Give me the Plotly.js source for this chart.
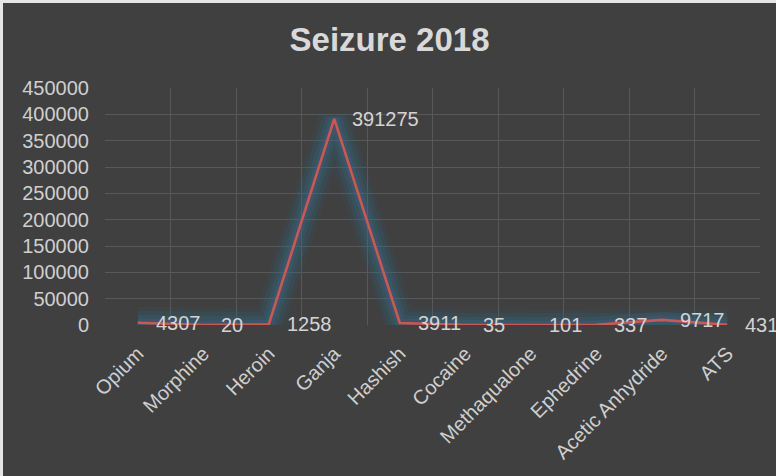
<!DOCTYPE html>
<html>
<head>
<meta charset="utf-8">
<script src="https://cdn.plot.ly/plotly-3.0.1.min.js"></script>
<style>
  html, body { margin: 0; padding: 0; background: #e6e6e6; width: 776px; height: 476px; overflow: hidden; }
  #chart { position: absolute; left: 3px; top: 3px; width: 773px; height: 473px; }
</style>
</head>
<body>
<div id="chart"></div>
<script>
const categories = ["Opium", "Morphine", "Heroin", "Ganja", "Hashish", "Cocaine",
                    "Methaqualone", "Ephedrine", "Acetic Anhydride", "ATS"];
const seizures = [4307, 20, 1258, 391275, 3911, 35, 101, 337, 9717, 431];
const yTicks = [0, 50000, 100000, 150000, 200000, 250000, 300000, 350000, 400000, 450000];

const glowColor = "#2b7090";
const glowLayers = [
  { width: 32, opacity: 0.10 },
  { width: 24, opacity: 0.14 },
  { width: 16, opacity: 0.2 },
  { width: 9, opacity: 0.28 }
];

const traces = glowLayers.map(g => ({
  type: "scatter", mode: "lines", x: categories, y: seizures,
  line: { color: glowColor, width: g.width },
  opacity: g.opacity, hoverinfo: "skip", showlegend: false
}));
traces.push({
  type: "scatter", mode: "lines", x: categories, y: seizures,
  line: { color: "#dc504d", width: 2.6 },
  showlegend: false, cliponaxis: false
});

const annotations = categories.map((c, i) => ({
  x: c, y: seizures[i], xref: "x", yref: "y",
  text: String(seizures[i]), showarrow: false,
  xanchor: "left", yanchor: "middle", xshift: 16,
  font: { family: "Liberation Sans, Arial, sans-serif", size: 20, color: "#d4d4d4" }
}));

const layout = {
  width: 773, height: 473,
  paper_bgcolor: "#404040", plot_bgcolor: "#404040",
  margin: { l: 102, r: 16, t: 85, b: 151, pad: 0 },
  font: { family: "Liberation Sans, Arial, sans-serif", color: "#cfcfcf", size: 20 },
  title: {
    text: "<b>Seizure 2018</b>",
    font: { family: "Liberation Sans, Arial, sans-serif", size: 33, color: "#d9d9d9" },
    x: 0.5, xanchor: "center", y: 0.922, yanchor: "middle", yref: "container"
  },
  xaxis: {
    type: "category", tickson: "boundaries", showgrid: true,
    gridcolor: "#585858", gridwidth: 1, ticks: "", showline: false, zeroline: false,
    tickangle: -45, tickfont: { size: 20, color: "#cfcfcf" }, ticklabelstandoff: 12,
    range: [-0.5, categories.length - 0.5]
  },
  yaxis: {
    range: [0, 450000], tickvals: yTicks, ticktext: yTicks.map(String),
    showgrid: true, gridcolor: "#585858", gridwidth: 1, zeroline: false,
    showline: false, ticks: "", ticklen: 0, ticklabelstandoff: 15,
    tickfont: { size: 20, color: "#cfcfcf" }
  },
  annotations: annotations
};

Plotly.newPlot("chart", traces, layout, { displayModeBar: false, staticPlot: true });
</script>
</body>
</html>
